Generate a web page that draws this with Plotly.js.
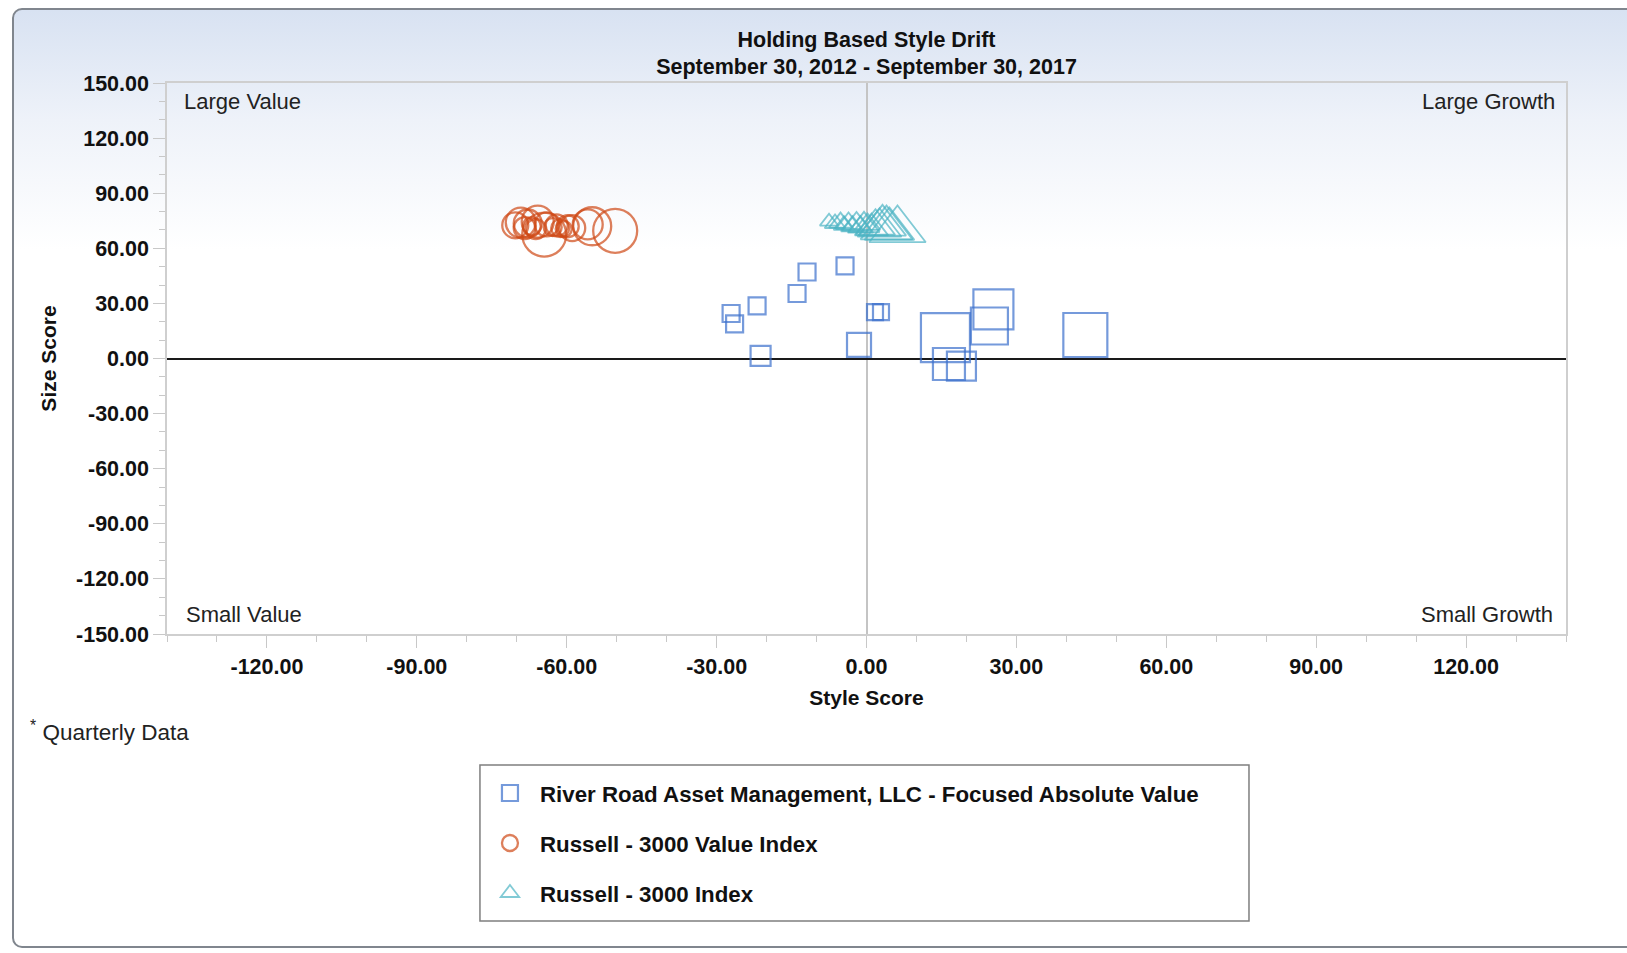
<!DOCTYPE html>
<html>
<head>
<meta charset="utf-8">
<script src="https://cdn.plot.ly/plotly-3.0.1.min.js"></script>
<style>
  html, body { margin: 0; padding: 0; width: 1627px; height: 953px; overflow: hidden; background: #ffffff; }
  #frame {
    position: absolute; left: 12px; top: 8px; width: 1660px; height: 940px;
    border: 2px solid #80868e; border-radius: 10px; box-sizing: border-box;
    background: linear-gradient(to bottom, #d8e2f2 0px, #eef2f9 110px, #ffffff 240px);
  }
  #chart { position: absolute; left: 0; top: 0; width: 1627px; height: 953px; }
</style>
</head>
<body>
<div id="frame"></div>
<div id="chart"></div>
<script>
// ---- Data (Style Score, Size Score, marker size) ----
const seriesNames = [
  "River Road Asset Management, LLC - Focused Absolute Value",
  "Russell - 3000 Value Index",
  "Russell - 3000 Index"
];

const fundStyle = [-11.9, -4.3, -13.9, -21.9, -27.1, -26.4, -21.2, -1.5, 1.7, 2.9, 15.8, 16.5, 19.0, 24.6, 25.4, 43.8];
const fundSize  = [47.1, 50.4, 35.4, 28.6, 24.5, 18.8, 1.4, 7.4, 25.3, 25.3, 11.4, -3.0, -4.1, 17.7, 26.7, 12.8];
const fundMarker = [17, 17, 17, 17, 17, 17, 20, 24, 16, 16, 49, 32, 29, 37, 40, 44];

const valueStyle = [-70.3, -69.2, -68.4, -67.8, -67.0, -66.2, -65.8, -64.5, -64.0, -62.8, -62.0, -61.3, -60.6, -59.8, -58.9, -55.8, -54.9, -50.3];
const valueSize  = [72.5, 74.0, 71.0, 73.5, 72.0, 70.5, 74.5, 67.5, 73.0, 71.5, 72.5, 71.0, 70.5, 72.0, 71.0, 73.0, 72.0, 69.5];
const valueMarker = [26, 30, 22, 28, 18, 20, 32, 44, 24, 18, 22, 18, 16, 22, 26, 30, 38, 44];

const indexStyle = [-7.5, -6.3, -5.2, -4.5, -3.6, -2.8, -2.0, -1.2, -0.5, 0.2, 1.0, 1.8, 2.6, 3.2, 4.0, 4.6, 6.2];
const indexSize  = [74.5, 73.5, 74.0, 72.5, 73.5, 72.0, 73.0, 71.5, 72.5, 73.0, 71.0, 72.0, 71.5, 72.5, 71.0, 70.5, 70.0];
const indexMarker = [16, 18, 20, 18, 22, 20, 25, 22, 27, 22, 29, 34, 38, 41, 45, 43, 49];

const xTickVals = [-120, -90, -60, -30, 0, 30, 60, 90, 120];
const xTickText = ["-120.00", "-90.00", "-60.00", "-30.00", "0.00", "30.00", "60.00", "90.00", "120.00"];
const yTickVals = [-150, -120, -90, -60, -30, 0, 30, 60, 90, 120, 150];
const yTickText = ["-150.00", "-120.00", "-90.00", "-60.00", "-30.00", "0.00", "30.00", "60.00", "90.00", "120.00", "150.00"];

const quadrantLabels = ["Large Value", "Large Growth", "Small Value", "Small Growth"];
const chartTitle = "Holding Based Style Drift<br>September 30, 2012 - September 30, 2017";
const xTitle = "Style Score";
const yTitle = "Size Score";
const noteText = "<sup>*</sup> Quarterly Data";

const colors = ["#3B6FCC", "#CF4815", "#4BB3C3"];
const FONT = "Liberation Sans, Arial, sans-serif";

const traces = [
  {
    type: "scatter", mode: "markers", name: seriesNames[0], legendgroup: "g1",
    x: fundStyle, y: fundSize,
    marker: { symbol: "square-open", size: fundMarker, color: colors[0], line: { width: 2.2, color: colors[0] } },
    hoverinfo: "x+y+name"
  },
  {
    type: "scatter", mode: "markers", name: seriesNames[1], legendgroup: "g2",
    x: valueStyle, y: valueSize,
    marker: { symbol: "circle-open", size: valueMarker, color: colors[1], line: { width: 2.3, color: colors[1] } },
    hoverinfo: "x+y+name"
  },
  {
    type: "scatter", mode: "markers", name: seriesNames[2], legendgroup: "g3",
    x: indexStyle, y: indexSize,
    marker: { symbol: "triangle-up-open", size: indexMarker, color: colors[2], line: { width: 1.8, color: colors[2] } },
    hoverinfo: "x+y+name"
  }
];

const tickFont = { family: FONT, size: 21.5, color: "#111111", weight: "bold" };
const axisCommon = {
  tickmode: "array",
  ticks: "outside", ticklen: 12, tickwidth: 1, tickcolor: "#c8c8c8",
  minor: { tickmode: "linear", tick0: 0, dtick: 10, ticks: "outside", ticklen: 6, tickwidth: 1, tickcolor: "#c8c8c8" },
  showgrid: false, showline: true, mirror: true, linecolor: "#cfcfcf", linewidth: 1.5,
  zeroline: true, zerolinewidth: 1.5,
  tickfont: tickFont, fixedrange: true
};

const layout = {
  width: 1627, height: 953, autosize: false,
  margin: { l: 167, r: 61, t: 83, b: 319, pad: 0 },
  paper_bgcolor: "rgba(0,0,0,0)", plot_bgcolor: "rgba(0,0,0,0)",
  font: { family: FONT, color: "#111111" },
  title: {
    text: chartTitle, x: 0.5, xref: "paper", xanchor: "center",
    y: 1 - 46.5 / 953, yref: "container", yanchor: "middle",
    font: { family: FONT, size: 21.5, weight: "bold", color: "#111111" }
  },
  xaxis: Object.assign({}, axisCommon, {
    range: [-140, 140], zerolinecolor: "#c4c4c4",
    tickvals: xTickVals, ticktext: xTickText,
    title: { text: xTitle, font: { family: FONT, size: 21, weight: "bold", color: "#111111" }, standoff: 13 }
  }),
  yaxis: Object.assign({}, axisCommon, {
    range: [-150, 150], zerolinecolor: "#1a1a1a",
    tickvals: yTickVals, ticktext: yTickText,
    title: { text: yTitle, font: { family: FONT, size: 21, weight: "bold", color: "#111111" }, standoff: 14 }
  }),
  showlegend: true,
  legend: {
    x: 0.2237, xanchor: "left", y: -0.2505, yanchor: "top",
    bgcolor: "rgba(0,0,0,0)", borderwidth: 0,
    font: { family: FONT, size: 22.3, weight: "bold", color: "#111111" },
    itemwidth: 50, tracegroupgap: 18, traceorder: "grouped", itemsizing: "trace",
    itemclick: false, itemdoubleclick: false
  },
  shapes: [
    { type: "rect", xref: "paper", yref: "paper", x0: 0.2237, x1: 0.7734, y0: -0.2377, y1: -0.5209,
      line: { color: "#7f7f7f", width: 1.5 }, fillcolor: "#ffffff", layer: "below" }
  ],
  annotations: [
    { text: quadrantLabels[0], xref: "paper", yref: "paper", x: 0.0105, y: 0.966, xanchor: "left", yanchor: "middle", showarrow: false, font: { family: FONT, size: 22, color: "#222222" } },
    { text: quadrantLabels[1], xref: "paper", yref: "paper", x: 0.9936, y: 0.966, xanchor: "right", yanchor: "middle", showarrow: false, font: { family: FONT, size: 22, color: "#222222" } },
    { text: quadrantLabels[2], xref: "paper", yref: "paper", x: 0.0118, y: 0.0345, xanchor: "left", yanchor: "middle", showarrow: false, font: { family: FONT, size: 22, color: "#222222" } },
    { text: quadrantLabels[3], xref: "paper", yref: "paper", x: 0.9921, y: 0.0345, xanchor: "right", yanchor: "middle", showarrow: false, font: { family: FONT, size: 22, color: "#222222" } },
    { text: noteText, xref: "paper", yref: "paper", x: (28 - 167) / 1399, y: (634 - 731) / 551, xanchor: "left", yanchor: "middle", showarrow: false, font: { family: FONT, size: 22.5, color: "#222222" } }
  ]
};

Plotly.newPlot("chart", traces, layout, { displayModeBar: false, responsive: false });
</script>
</body>
</html>
